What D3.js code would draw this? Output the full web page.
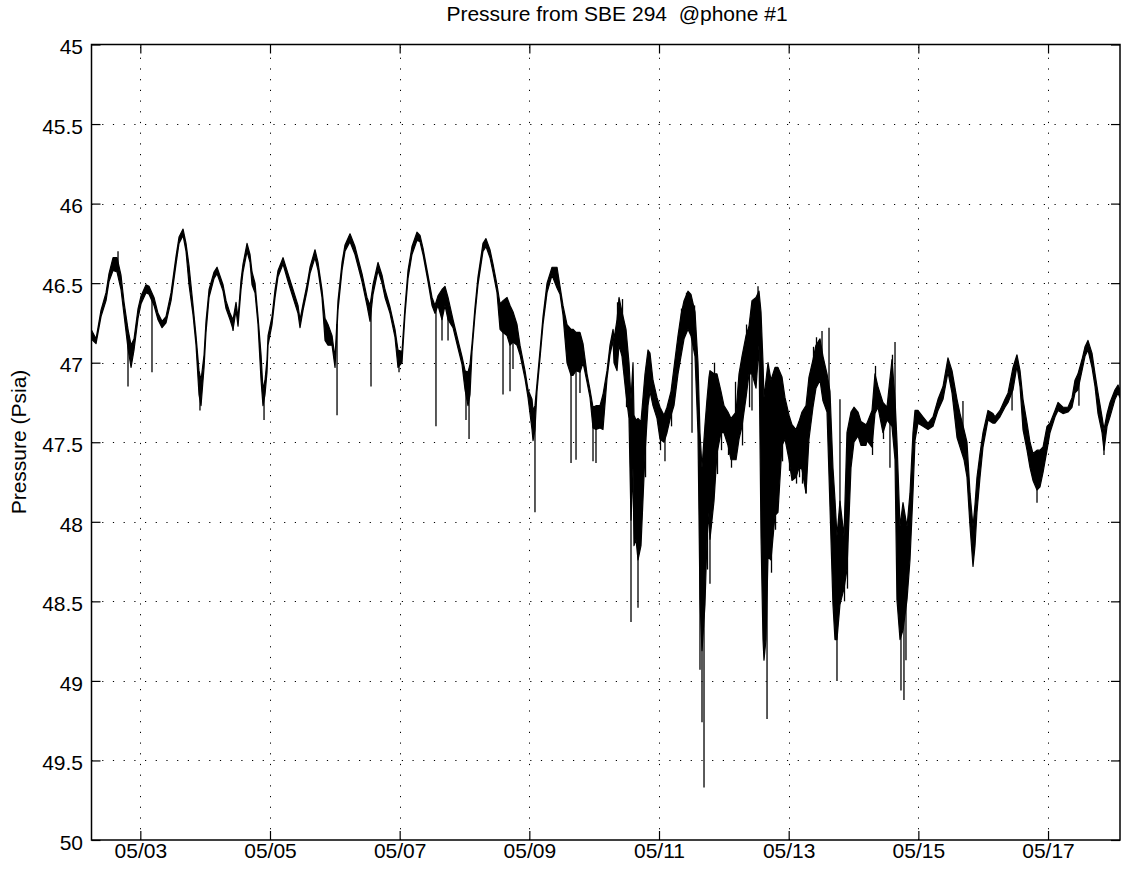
<!DOCTYPE html>
<html><head><meta charset="utf-8">
<script src="https://cdn.jsdelivr.net/npm/d3@7"></script>
<style>body{margin:0;background:#fff}svg{display:block}text{font-family:"Liberation Sans",Arial,Helvetica,sans-serif}</style>
</head><body><svg id="c" width="1121" height="875"></svg>
<script>
// ---- data (day of May 2008, fractional) ----
const days = [
2.240,2.317,2.394,2.471,2.517,2.579,2.641,2.702,2.749,2.810,2.857,2.903,2.965,3.011,3.088,3.134,3.211,3.273,3.335,3.396,3.474,3.551,3.597,3.659,3.705,3.751,3.813,3.859,3.905,3.936,3.983,4.013,4.060,4.137,4.183,4.276,4.322,
4.384,4.430,4.476,4.507,4.553,4.584,4.646,4.692,4.723,4.769,4.815,4.862,4.892,4.923,4.954,4.970,5.031,5.078,5.124,5.201,5.278,5.355,5.432,5.463,5.510,5.571,5.617,5.694,5.741,5.802,5.849,5.895,5.957,6.003,6.049,6.111,6.157,6.234,6.311,
6.342,6.419,6.496,6.543,6.589,6.666,6.728,6.774,6.851,6.928,6.974,7.036,7.082,7.129,7.190,7.267,7.314,7.360,7.437,7.499,7.545,7.591,7.653,7.699,7.746,7.823,7.900,7.961,8.008,8.054,8.085,8.116,8.162,8.208,8.285,
8.331,8.393,8.440,8.501,8.548,8.594,8.656,8.702,8.748,8.810,8.856,8.933,8.980,9.041,9.057,9.087,9.118,9.165,9.211,9.273,9.350,9.427,9.473,9.519,9.581,9.643,9.673,9.720,9.781,9.828,9.889,9.936,9.982,10.028,10.090,10.136,10.198,10.244,10.291,
10.306,10.352,10.383,10.429,10.491,10.537,10.568,10.599,10.614,10.645,10.676,10.722,10.784,10.830,10.861,10.907,10.969,11.015,11.077,11.123,11.185,11.231,11.293,11.339,11.386,11.447,11.493,11.555,11.601,11.632,11.663,11.709,11.740,11.771,11.786,11.848,11.894,11.956,12.002,12.064,12.110,12.188,
12.234,12.280,12.342,12.388,12.434,12.496,12.542,12.573,12.604,12.619,12.650,12.681,12.727,12.789,12.835,12.897,12.943,13.005,13.051,13.113,13.159,13.205,13.267,13.313,13.375,13.421,13.483,13.529,13.591,13.637,13.683,13.714,13.745,13.791,13.853,13.899,13.961,14.007,14.069,14.115,14.192,
14.208,14.285,14.331,14.377,14.454,14.516,14.593,14.640,14.670,14.717,14.763,14.825,14.871,14.917,14.948,14.994,15.071,15.149,15.226,15.303,15.380,15.457,15.519,15.596,15.642,15.704,15.750,15.797,15.843,15.874,15.904,15.951,15.997,16.074,16.151,
16.182,16.259,16.336,16.383,16.460,16.521,16.568,16.614,16.676,16.722,16.768,16.830,16.876,16.923,16.984,17.030,17.108,17.154,17.231,17.308,17.370,17.416,17.462,17.524,17.570,17.616,17.678,17.725,17.771,17.833,17.863,17.910,17.956,18.033,18.079,18.110
];
// lower edge of the noisy trace (smaller pressure)
const pLow = [
46.79,46.85,46.67,46.56,46.44,46.34,46.34,46.45,46.62,46.79,46.89,46.85,46.66,46.58,46.51,46.52,46.59,46.69,46.74,46.71,46.56,46.33,46.21,46.16,46.25,46.39,46.64,46.83,47.05,47.11,46.95,46.74,46.54,46.43,46.40,46.51,46.61,
46.69,46.73,46.62,46.72,46.48,46.38,46.25,46.32,46.43,46.50,46.71,46.95,47.17,47.11,46.98,46.83,46.71,46.54,46.42,46.34,46.44,46.54,46.64,46.73,46.63,46.51,46.40,46.29,46.37,46.54,46.72,46.76,46.83,46.97,46.61,46.37,46.26,46.19,46.27,
46.32,46.44,46.59,46.64,46.51,46.37,46.45,46.54,46.65,46.79,46.92,46.93,46.65,46.42,46.27,46.18,46.20,46.28,46.45,46.59,46.64,46.58,46.54,46.52,46.59,46.73,46.86,46.96,47.05,47.06,47.01,46.88,46.65,46.46,46.25,
46.22,46.29,46.38,46.51,46.63,46.61,46.59,46.64,46.68,46.76,46.89,47.05,47.17,47.23,47.30,47.27,47.13,46.92,46.71,46.50,46.40,46.40,46.52,46.64,46.76,46.79,46.79,46.81,46.81,46.88,47.07,47.17,47.28,47.27,47.27,47.20,47.05,46.89,46.79,
46.85,46.73,46.59,46.68,46.79,47.00,47.23,47.00,47.33,47.36,47.35,47.37,47.07,46.92,46.94,47.11,47.22,47.28,47.33,47.28,47.18,47.03,46.83,46.70,46.61,46.55,46.57,46.68,47.00,47.44,47.66,47.39,47.23,47.09,47.05,47.07,47.07,47.18,47.27,47.31,47.35,47.31,
47.07,46.96,46.83,46.77,46.61,46.59,46.55,46.68,47.00,47.22,47.11,47.00,47.11,47.03,47.03,47.09,47.22,47.33,47.39,47.42,47.37,47.31,47.27,47.09,46.98,46.89,46.85,46.96,47.07,47.18,47.66,47.86,48.09,47.87,48.09,47.44,47.31,47.28,47.31,47.37,47.39,
47.38,47.30,47.07,47.15,47.25,47.28,46.98,47.23,47.49,48.03,47.88,48.03,47.82,47.44,47.30,47.30,47.34,47.38,47.34,47.23,47.15,46.97,47.05,47.23,47.32,47.42,47.50,47.82,48.03,47.89,47.72,47.57,47.44,47.30,47.32,
47.34,47.30,47.23,47.19,47.03,46.95,47.05,47.23,47.38,47.50,47.57,47.55,47.55,47.53,47.40,47.38,47.30,47.25,47.28,47.28,47.22,47.11,47.07,46.98,46.90,46.86,46.94,47.07,47.19,47.34,47.42,47.32,47.25,47.17,47.14,47.17
];
// upper edge of the noisy trace (larger pressure)
const pHigh = [
46.85,46.88,46.71,46.61,46.49,46.42,46.43,46.54,46.70,46.91,47.03,46.92,46.72,46.63,46.56,46.57,46.64,46.73,46.78,46.75,46.61,46.38,46.25,46.20,46.30,46.51,46.70,46.89,47.20,47.27,47.03,46.81,46.59,46.47,46.44,46.55,46.66,
46.73,46.79,46.67,46.77,46.54,46.43,46.30,46.37,46.51,46.56,46.76,47.11,47.27,47.20,47.06,46.89,46.76,46.59,46.46,46.38,46.49,46.59,46.69,46.78,46.67,46.55,46.44,46.34,46.42,46.59,46.86,46.89,46.89,47.03,46.67,46.42,46.30,46.24,46.32,
46.37,46.49,46.64,46.74,46.57,46.42,46.50,46.59,46.69,46.84,47.03,47.00,46.70,46.47,46.32,46.23,46.24,46.32,46.49,46.64,46.69,46.64,46.73,46.64,46.73,46.78,46.91,47.01,47.17,47.27,47.20,46.93,46.70,46.51,46.30,
46.27,46.34,46.43,46.56,46.79,46.81,46.83,46.89,46.87,46.89,46.95,47.10,47.22,47.42,47.49,47.42,47.18,46.97,46.76,46.56,46.45,46.53,46.57,46.70,47.00,47.08,47.08,47.05,47.06,47.00,47.12,47.22,47.41,47.42,47.41,47.42,47.10,46.95,46.86,
47.00,47.05,46.89,46.96,47.20,47.35,47.99,47.66,48.15,48.11,48.24,48.15,47.57,47.27,47.18,47.27,47.35,47.48,47.50,47.44,47.33,47.27,47.07,46.96,46.85,46.79,46.83,46.96,47.44,48.49,48.81,48.52,48.11,47.94,48.11,47.87,47.57,47.44,47.44,47.52,47.61,47.61,
47.48,47.40,47.22,47.07,47.07,47.16,46.89,48.09,48.74,48.87,48.74,48.22,48.24,47.96,47.94,47.52,47.48,47.61,47.74,47.72,47.66,47.67,47.82,47.48,47.28,47.16,47.11,47.24,47.31,47.91,48.52,48.74,48.74,48.52,48.42,48.30,47.66,47.50,47.46,47.52,47.52,
47.49,47.53,47.32,47.28,47.44,47.36,47.40,47.61,48.49,48.74,48.68,48.49,48.24,47.82,47.49,47.38,47.40,47.42,47.40,47.30,47.23,47.06,47.19,47.47,47.53,47.61,47.72,48.03,48.28,48.15,47.94,47.72,47.53,47.36,47.38,
47.38,47.34,47.28,47.25,47.17,47.02,47.15,47.42,47.55,47.66,47.74,47.80,47.78,47.69,47.55,47.44,47.34,47.30,47.32,47.31,47.28,47.19,47.17,47.05,46.96,46.92,47.03,47.15,47.32,47.44,47.55,47.40,47.34,47.23,47.19,47.22
];
// isolated single-sample spikes
const spikeDays = [2.656,2.810,3.180,3.920,4.430,4.908,6.034,6.558,6.990,7.560,7.653,7.746,8.023,8.070,8.594,8.702,8.748,9.087,9.643,9.720,9.781,9.982,10.028,10.568,10.676,11.092,11.509,11.632,11.663,11.694,11.786,12.434,12.666,13.267,13.514,13.622,13.745,13.791,14.562,14.640,14.732,14.778,14.809,15.688,16.445,16.830,17.477,17.863,
10.360,10.437,10.499,10.730,10.792,11.023,11.193,11.347,11.424,11.548,11.748,11.856,11.902,11.964,12.072,12.118,12.180,12.288,12.350,12.396,12.527,12.735,12.797,12.905,13.013,13.121,13.167,13.213,13.383,13.429,13.861,13.907,14.293,14.339,14.462,14.601];
const spikeValues = [46.30,47.15,47.06,47.30,46.80,47.36,47.33,47.15,47.06,47.40,46.86,46.86,47.36,47.48,47.20,47.18,47.04,47.94,47.63,47.61,47.19,47.62,47.63,48.63,48.54,47.62,47.44,48.93,49.26,49.67,48.39,47.30,49.24,47.82,46.80,46.78,49.00,47.23,47.66,46.87,49.06,49.12,48.87,47.24,47.30,47.88,47.27,47.58,
46.62,46.60,47.28,47.95,47.72,47.55,47.40,46.66,46.56,46.64,48.30,47.00,47.70,47.55,47.58,47.66,47.12,47.52,46.76,47.28,46.52,48.32,48.05,47.62,47.68,47.76,47.72,47.76,46.90,46.84,48.50,48.42,47.58,47.02,47.48,46.95];

const xDomain = [2.247, 18.11];
const xTickDays = [3,5,7,9,11,13,15,17];
const xTickLabels = ["05/03","05/05","05/07","05/09","05/11","05/13","05/15","05/17"];
const yDomain = [45, 50];
const yTicks = [45,45.5,46,46.5,47,47.5,48,48.5,49,49.5,50];
const yTickLabels = ["45","45.5","46","46.5","47","47.5","48","48.5","49","49.5","50"];
const titleText = "Pressure from SBE 294  @phone #1";
const yLabelText = "Pressure (Psia)";

// ---- layout ----
const L = 91.5, R = 1120, T = 44.5, B = 840;
const svg = d3.select("#c");
const x = d3.scaleLinear().domain(xDomain).range([L, R]);
const y = d3.scaleLinear().domain(yDomain).range([T, B]);
const FS = 21;

// grid
const grid = svg.append("g").attr("stroke", "#000").attr("stroke-width", 1).attr("stroke-dasharray", "1.2,9.5");
grid.selectAll("line.v").data(xTickDays).join("line").attr("class","v")
  .attr("x1", d => Math.round(x(d)) + 0.5).attr("x2", d => Math.round(x(d)) + 0.5)
  .attr("y1", B).attr("y2", T);
grid.selectAll("line.h").data(yTicks.slice(1, -1)).join("line").attr("class","h")
  .attr("y1", d => Math.round(y(d)) + 0.5).attr("y2", d => Math.round(y(d)) + 0.5)
  .attr("x1", L).attr("x2", R);

// clip
svg.append("clipPath").attr("id","clip").append("rect").attr("x",L).attr("y",T).attr("width",R-L).attr("height",B-T);
const plot = svg.append("g").attr("clip-path","url(#clip)");

const idx = d3.range(Math.min(days.length, pLow.length, pHigh.length));
const area = d3.area().x(i => x(days[i])).y0(i => y(pLow[i])).y1(i => y(pHigh[i]));
plot.append("path").attr("d", area(idx)).attr("fill","#000").attr("stroke","#000")
  .attr("stroke-width", 1.2).attr("stroke-linejoin","round");

// spikes: from the trace centre to the spike value
const bis = d3.bisector(d => d).left;
function centreAt(d) {
  let i = bis(days, d);
  if (i <= 0) return (pLow[0] + pHigh[0]) / 2;
  if (i >= days.length) { const k = days.length - 1; return (pLow[k] + pHigh[k]) / 2; }
  const t = (d - days[i-1]) / (days[i] - days[i-1]);
  const a = (pLow[i-1] + pHigh[i-1]) / 2, b = (pLow[i] + pHigh[i]) / 2;
  return a + (b - a) * t;
}
plot.selectAll("line.spike").data(d3.range(Math.min(spikeDays.length, spikeValues.length))).join("line").attr("class","spike")
  .attr("x1", i => x(spikeDays[i])).attr("x2", i => x(spikeDays[i]))
  .attr("y1", i => y(centreAt(spikeDays[i]))).attr("y2", i => y(spikeValues[i]))
  .attr("stroke","#000").attr("stroke-width", 1.3);

// axes
function styleAxis(g, labels) {
  g.select(".domain").remove();
  g.selectAll(".tick line").attr("stroke","#000").attr("stroke-width",1.2);
  g.selectAll(".tick text").attr("font-size", FS).attr("fill","#000")
   .attr("font-family",'"Liberation Sans",Arial,sans-serif');
  if (!labels) g.selectAll(".tick text").remove();
}
svg.append("g").attr("transform",`translate(0,${B})`)
  .call(d3.axisBottom(x).tickValues(xTickDays).tickFormat((d,i)=>xTickLabels[i]).tickSizeInner(-9).tickSizeOuter(0).tickPadding(3))
  .call(g => styleAxis(g, true));
svg.append("g").attr("transform",`translate(0,${T})`)
  .call(d3.axisTop(x).tickValues(xTickDays).tickSizeInner(-9).tickSizeOuter(0))
  .call(g => styleAxis(g, false));
const yl = svg.append("g").attr("transform",`translate(${L},0)`)
  .call(d3.axisLeft(y).tickValues(yTicks).tickFormat((d,i)=>yTickLabels[i]).tickSizeInner(-9).tickSizeOuter(0).tickPadding(8.5))
  .call(g => styleAxis(g, true));
yl.selectAll(".tick text").attr("dy","0.44em");
svg.append("g").attr("transform",`translate(${R},0)`)
  .call(d3.axisRight(y).tickValues(yTicks).tickSizeInner(-9).tickSizeOuter(0))
  .call(g => styleAxis(g, false));

// frame
svg.append("rect").attr("x",L).attr("y",T).attr("width",R-L).attr("height",B-T)
  .attr("fill","none").attr("stroke","#000").attr("stroke-width",1.5);

// title & label
svg.append("text").attr("x", 617).attr("y", 21).attr("text-anchor","middle")
  .attr("font-size", FS).style("white-space","pre").text(titleText);
svg.append("text").attr("transform","translate(26,442) rotate(-90)").attr("text-anchor","middle")
  .attr("font-size", FS).text(yLabelText);
</script></body></html>
